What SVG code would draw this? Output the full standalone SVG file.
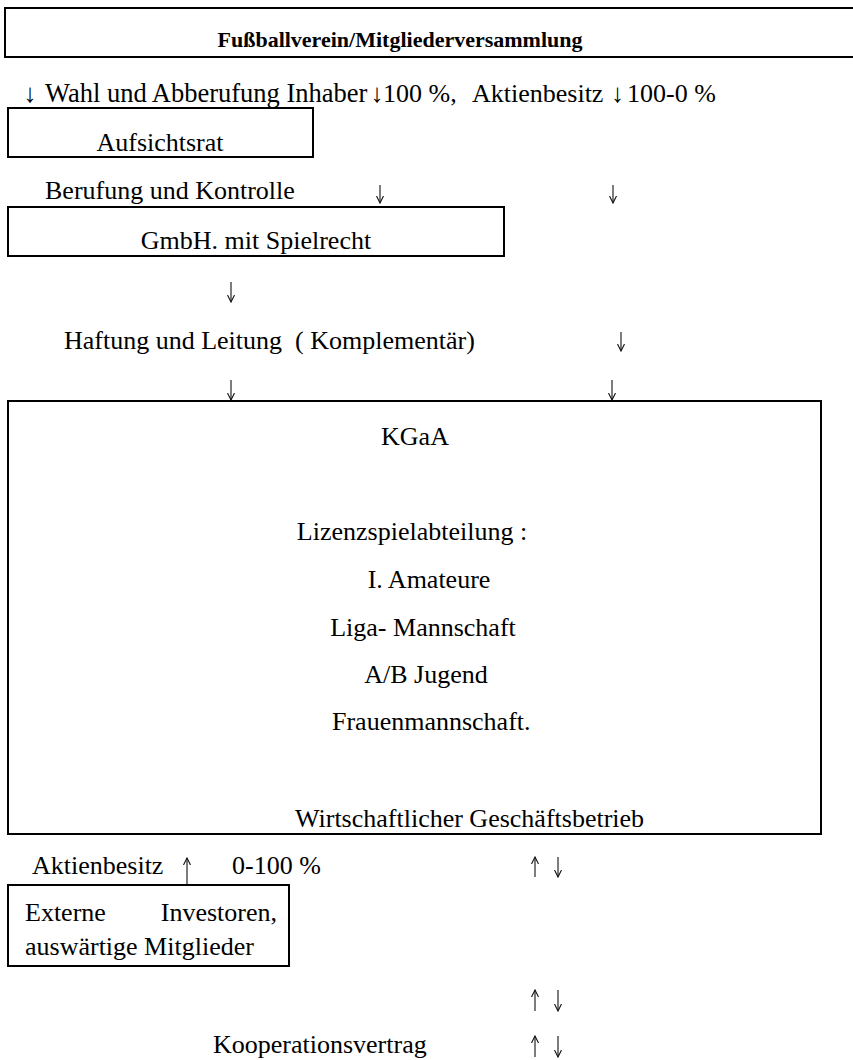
<svg xmlns="http://www.w3.org/2000/svg" width="853" height="1060" viewBox="0 0 853 1060">
<style>
.box{fill:none;stroke:#000;stroke-width:2}
.t{font-family:"Liberation Serif","Times New Roman",serif;font-size:26px;fill:#000}
.c{text-anchor:middle}
.b{font-weight:bold;font-size:22px}
.arr{fill:none;stroke:#111;stroke-width:1.1;marker-end:url(#head)}
</style>
<defs>
<marker id="head" viewBox="0 0 8 8" refX="7" refY="4" markerWidth="8" markerHeight="8" markerUnits="userSpaceOnUse" orient="auto">
<path d="M0,0.5 L7,4 L0,7.5" fill="none" stroke="#111" stroke-width="1.1"/>
</marker>
</defs>
<rect width="853" height="1060" fill="#fff"/>
<g id="verein">
<rect class="box" x="5" y="8" width="870" height="49"/>
<text class="t b c" x="400" y="47">Fußballverein/Mitgliederversammlung</text>
</g>
<g id="wahl-label" opacity="0.999">
<text class="t" y="102" xml:space="preserve"><tspan x="23.5">↓ </tspan><tspan x="45" font-size="26.5">Wahl und Abberufung Inhaber</tspan><tspan x="370.5">↓</tspan><tspan x="383">100 %,  </tspan><tspan x="472">Aktienbesitz </tspan><tspan x="611">↓</tspan><tspan x="627">100-0 %</tspan></text>
</g>
<g id="aufsichtsrat">
<rect class="box" x="8" y="108" width="305" height="49"/>
<text class="t c" x="160" y="151">Aufsichtsrat</text>
</g>
<g id="berufung-label">
<text class="t" x="45" y="199">Berufung und Kontrolle</text>
</g>
<g id="gmbh">
<rect class="box" x="8" y="207" width="496" height="49"/>
<text class="t c" x="256" y="249">GmbH. mit Spielrecht</text>
</g>
<g id="haftung-label">
<text class="t" x="64" y="349" xml:space="preserve">Haftung und Leitung  ( Komplementär)</text>
</g>
<g id="kgaa">
<rect class="box" x="8" y="401" width="813" height="433"/>
<text class="t c" x="415" y="445">KGaA</text>
<text class="t c" x="412" y="540">Lizenzspielabteilung :</text>
<text class="t c" x="429" y="588">I. Amateure</text>
<text class="t c" x="423" y="636">Liga- Mannschaft</text>
<text class="t c" x="426" y="683">A/B Jugend</text>
<text class="t" x="332" y="730">Frauenmannschaft.</text>
<text class="t" x="295" y="827">Wirtschaftlicher Geschäftsbetrieb</text>
</g>
<g id="aktien-label">
<text class="t" x="32" y="874">Aktienbesitz</text>
<text class="t" x="232" y="874">0-100 %</text>
</g>
<g id="investoren">
<rect class="box" x="8" y="885" width="281" height="81"/>
<text class="t" x="25" y="921">Externe</text>
<text class="t" x="277" y="921" text-anchor="end">Investoren,</text>
<text class="t" x="25" y="955">auswärtige Mitglieder</text>
</g>
<g id="kooperation-label">
<text class="t" x="213" y="1053">Kooperationsvertrag</text>
</g>
<g id="connectors">
<path class="arr" d="M380,185 V203"/>
<path class="arr" d="M613,185 V203"/>
<path class="arr" d="M231,282 V302"/>
<path class="arr" d="M621,332 V351"/>
<path class="arr" d="M231,380 V400"/>
<path class="arr" d="M612,380 V400"/>
<path class="arr" d="M187,884 V858"/>
<path class="arr" d="M535,877 V857"/>
<path class="arr" d="M558,857 V877"/>
<path class="arr" d="M535,1011 V990"/>
<path class="arr" d="M558,990 V1011"/>
<path class="arr" d="M535,1057 V1036"/>
<path class="arr" d="M558,1036 V1057"/>
</g>
</svg>
